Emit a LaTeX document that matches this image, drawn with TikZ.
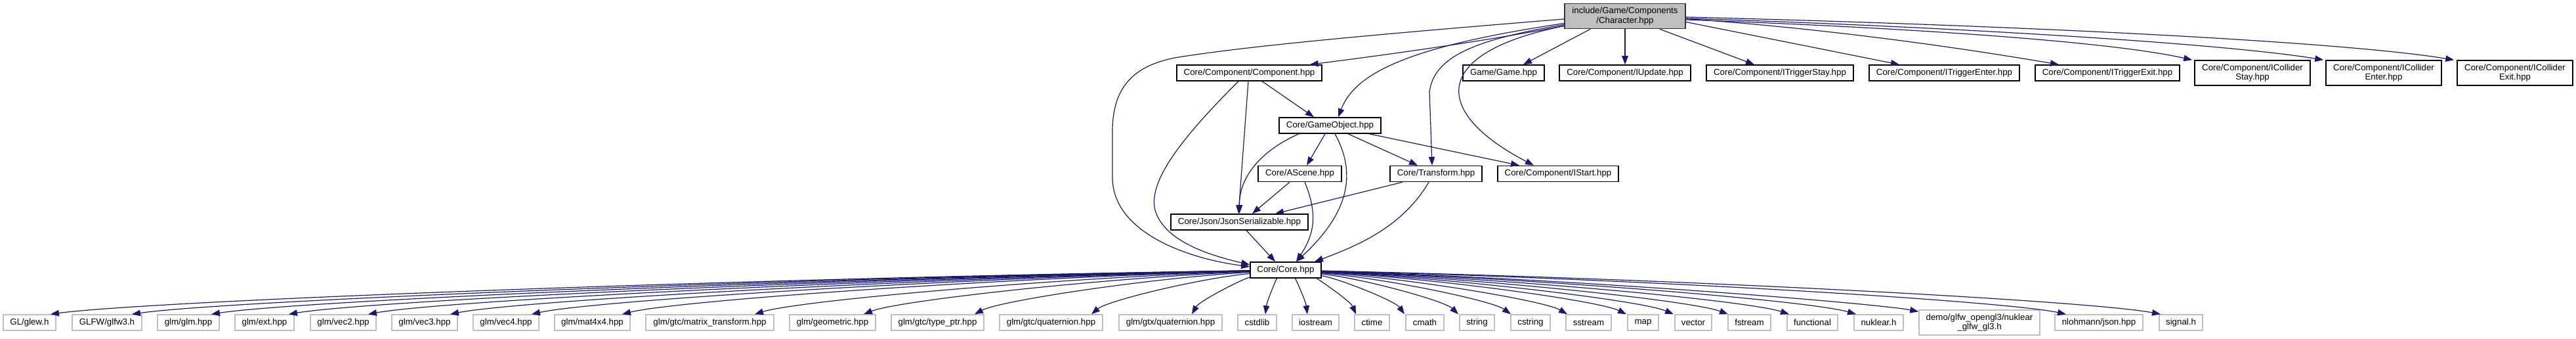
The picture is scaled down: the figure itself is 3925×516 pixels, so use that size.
\documentclass[tikz,border=0pt]{standalone}
\usepackage{fontspec}
\setmainfont{Liberation Sans}
\usetikzlibrary{arrows.meta}
\definecolor{edgeblue}{HTML}{191970}
\definecolor{greyfill}{HTML}{BFBFBF}
\definecolor{greyline}{HTML}{BFBFBF}
\tikzset{
  box/.style={draw=black, line width=1.5pt, fill=white, inner sep=0pt, minimum height=24pt, align=center,
    font=\fontsize{13.3}{14.5}\selectfont},
  box2/.style={box, minimum height=38pt},
  rootbox/.style={box2, fill=greyfill, draw=black!80},
  ext/.style={box, draw=greyline},
  ext2/.style={ext, minimum height=38pt},
  edge/.style={draw=edgeblue, line width=1.2pt, -{Triangle[length=13pt,width=9.5pt]}},
}
\begin{document}
\begin{tikzpicture}[x=1pt,y=1pt]
\useasboundingbox[fill=white] (0,0) rectangle (3925,-516);
% top
\node[rootbox, minimum width=184pt] (char) at (2476,-24.5) {include/Game/Components\\/Character.hpp};
% row 1
\node[box, minimum width=221pt] (comp) at (1903.5,-111) {Core/Component/Component.hpp};
\node[box, minimum width=124pt] (game) at (2291,-111) {Game/Game.hpp};
\node[box, minimum width=200pt] (iupdate) at (2476,-111) {Core/Component/IUpdate.hpp};
\node[box, minimum width=224pt] (itstay) at (2712,-111) {Core/Component/ITriggerStay.hpp};
\node[box, minimum width=229pt] (itenter) at (2962.5,-111) {Core/Component/ITriggerEnter.hpp};
\node[box, minimum width=220pt] (itexit) at (3211,-111) {Core/Component/ITriggerExit.hpp};
\node[box2, minimum width=176pt] (icstay) at (3432,-111) {Core/Component/ICollider\\Stay.hpp};
\node[box2, minimum width=176pt] (icenter) at (3632,-111) {Core/Component/ICollider\\Enter.hpp};
\node[box2, minimum width=176pt] (icexit) at (3832,-111) {Core/Component/ICollider\\Exit.hpp};
% middle
\node[box, minimum width=155pt] (gobj) at (2026.5,-191) {Core/GameObject.hpp};
\node[box, minimum width=127pt] (ascene) at (1980.5,-264.5) {Core/AScene.hpp};
\node[box, minimum width=140pt] (transf) at (2188,-264.5) {Core/Transform.hpp};
\node[box, minimum width=184pt] (istart) at (2374,-264.5) {Core/Component/IStart.hpp};
\node[box, minimum width=209pt] (json) at (1888.5,-338) {Core/Json/JsonSerializable.hpp};
\node[box, minimum width=108pt] (core) at (1959,-411) {Core/Core.hpp};
% bottom
\node[ext, minimum width=80pt] (glew) at (45,-491) {GL/glew.h};
\node[ext, minimum width=106pt] (glfw) at (163,-491) {GLFW/glfw3.h};
\node[ext, minimum width=94pt] (glm) at (287,-491) {glm/glm.hpp};
\node[ext, minimum width=90pt] (ext) at (403,-491) {glm/ext.hpp};
\node[ext, minimum width=100pt] (vec2) at (523,-491) {glm/vec2.hpp};
\node[ext, minimum width=100pt] (vec3) at (647,-491) {glm/vec3.hpp};
\node[ext, minimum width=100pt] (vec4) at (771,-491) {glm/vec4.hpp};
\node[ext, minimum width=115pt] (mat4) at (902.5,-491) {glm/mat4x4.hpp};
\node[ext, minimum width=195pt] (mtrans) at (1081.5,-491) {glm/gtc/matrix\_transform.hpp};
\node[ext, minimum width=131pt] (geom) at (1268.5,-491) {glm/geometric.hpp};
\node[ext, minimum width=141pt] (tptr) at (1428.5,-491) {glm/gtc/type\_ptr.hpp};
\node[ext, minimum width=157pt] (gtcq) at (1601.5,-491) {glm/gtc/quaternion.hpp};
\node[ext, minimum width=157pt] (gtxq) at (1783.5,-491) {glm/gtx/quaternion.hpp};
\node[ext, minimum width=59pt] (cstdlib) at (1915.5,-491) {cstdlib};
\node[ext, minimum width=71pt] (iostream) at (2004.5,-491) {iostream};
\node[ext, minimum width=53pt] (ctime) at (2090.5,-491) {ctime};
\node[ext, minimum width=58pt] (cmath) at (2171,-491) {cmath};
\node[ext, minimum width=53pt] (string) at (2250.5,-491) {string};
\node[ext, minimum width=60pt] (cstring) at (2332,-491) {cstring};
\node[ext, minimum width=69pt] (sstream) at (2420.5,-491) {sstream};
\node[ext, minimum width=47pt] (map) at (2503.5,-491) {map};
\node[ext, minimum width=56pt] (vector) at (2580,-491) {vector};
\node[ext, minimum width=65pt] (fstream) at (2665.5,-491) {fstream};
\node[ext, minimum width=77pt] (functional) at (2761.5,-491) {functional};
\node[ext, minimum width=75pt] (nuklear) at (2862.5,-491) {nuklear.h};
\node[ext2, minimum width=184pt] (demo) at (3016,-491) {demo/glfw\_opengl3/nuklear\\\_glfw\_gl3.h};
\node[ext, minimum width=134pt] (nlohmann) at (3198,-491) {nlohmann/json.hpp};
\node[ext, minimum width=66pt] (signal) at (3323,-491) {signal.h};

% edges from Character
\draw[edge] ([yshift=5pt]char.south west) .. controls (2250,-65) and (2100,-85) .. ([xshift=-19pt]comp.north east);
\draw[edge] ([yshift=-4.5pt]char.west) .. controls (2100,-52) and (1900,-70) .. (1790,-88)
  .. controls (1730,-100) and (1695,-130) .. (1695,-200) -- (1695,-270)
  .. controls (1695,-350) and (1800,-392) .. ([yshift=5pt]core.west);
\draw[edge] ([yshift=-11pt]char.west) .. controls (2150,-70) and (2065,-110) .. ([xshift=12.5pt]gobj.north);
\draw[edge] ([yshift=-13pt]char.west) .. controls (2250,-60) and (2185,-85) .. (2178,-140) -- ([xshift=-6pt]transf.north);
\draw[edge] ([yshift=-15pt]char.west) .. controls (2180,-80) and (2180,-170) .. ([xshift=-37pt]istart.north);
\draw[edge] ([xshift=40pt]char.south west) -- ([xshift=30pt]game.north);
\draw[edge] (char.south) -- (iupdate.north);
\draw[edge] ([xshift=-40pt]char.south east) -- ([xshift=-39pt]itstay.north);
\draw[edge] ([yshift=-9pt]char.east) -- ([xshift=-68.5pt]itenter.north);
\draw[edge] ([yshift=-4pt]char.east) .. controls (2800,-45) and (3000,-75) .. ([xshift=-74pt]itexit.north);
\draw[edge] ([yshift=-5.5pt]char.east) .. controls (2850,-40) and (3200,-60) .. ([xshift=-3pt]icstay.north west);
\draw[edge] ([yshift=-3.5pt]char.east) .. controls (2950,-40) and (3380,-65) .. ([xshift=-3pt]icenter.north west);
\draw[edge] ([yshift=-1.5pt]char.east) .. controls (3050,-38) and (3560,-62) .. ([xshift=-4pt]icexit.north west);
% Component
\draw[edge] ([xshift=19.5pt]comp.south) -- ([xshift=-24.5pt]gobj.north);
\draw[edge] ([xshift=-1.5pt]comp.south) -- ([xshift=-1.5pt]json.north);
\draw[edge] ([xshift=-16.5pt]comp.south) .. controls (1790,-220) and (1750,-280) .. (1760,-320)
  .. controls (1775,-370) and (1850,-390) .. ([yshift=8pt]core.west);
% GameObject
\draw[edge] ([xshift=-7.5pt]gobj.south) -- ([xshift=10.5pt]ascene.north);
\draw[edge] ([xshift=-47.5pt]gobj.south) .. controls (1920,-230) and (1888,-270) .. (json.north);
\draw[edge] ([xshift=7.5pt]gobj.south) .. controls (2065,-260) and (2060,-320) .. ([xshift=16pt]core.north);
\draw[edge] ([xshift=27.5pt]gobj.south) -- ([xshift=-28pt]transf.north);
\draw[edge] ([xshift=59.5pt]gobj.south) -- ([xshift=-59pt]istart.north);
% AScene, Transform, Json
\draw[edge] ([xshift=-15.5pt]ascene.south) -- ([xshift=19.5pt]json.north);
\draw[edge] ([xshift=7.5pt]ascene.south) .. controls (2010,-330) and (2000,-360) .. ([xshift=16pt]core.north);
\draw[edge] ([xshift=-51pt]transf.south) -- ([xshift=54.5pt]json.north);
\draw[edge] ([xshift=-11pt]transf.south) .. controls (2140,-340) and (2080,-370) .. ([xshift=44pt]core.north);
\draw[edge] ([xshift=10.5pt]json.south) -- ([xshift=-16pt]core.north);
% Core fan
\foreach \n/\cx/\off in {glew/45/32, glfw/163/38, glm/287/35, ext/403/37, vec2/523/38, vec3/647/39,
  vec4/771/39, mat4/902.5/45.5, mtrans/1081.5/68.5, geom/1268.5/47.5, tptr/1428.5/56.5,
  gtcq/1601.5/61.5, gtxq/1783.5/32.5, cstdlib/1915.5/12.5, iostream/2004.5/-12.5,
  ctime/2090.5/-24.5, cmath/2171/-31, string/2250.5/-28.5, cstring/2332/-30,
  sstream/2420.5/-32.5, map/2503.5/-25.5, vector/2580/-30, fstream/2665.5/-32.5,
  functional/2761.5/-35.5, nuklear/2862.5/-34.5, nlohmann/3198/-50, signal/3323/-31}{
  \pgfmathsetmacro\tx{\cx+\off}
  \pgfmathsetmacro\dx{\tx-1959}
  \pgfmathsetmacro\ax{1959+0.45*\dx}
  \pgfmathsetmacro\bx{\tx-0.08*\dx}
  \draw[edge] (core) .. controls (\ax,-424) and (\bx,-458) .. ([xshift=\off pt]\n.north);
}
\draw[edge] (core) .. controls (2400,-424) and (2860,-462) .. ([yshift=-3pt]demo.north west);
\end{tikzpicture}
\end{document}
